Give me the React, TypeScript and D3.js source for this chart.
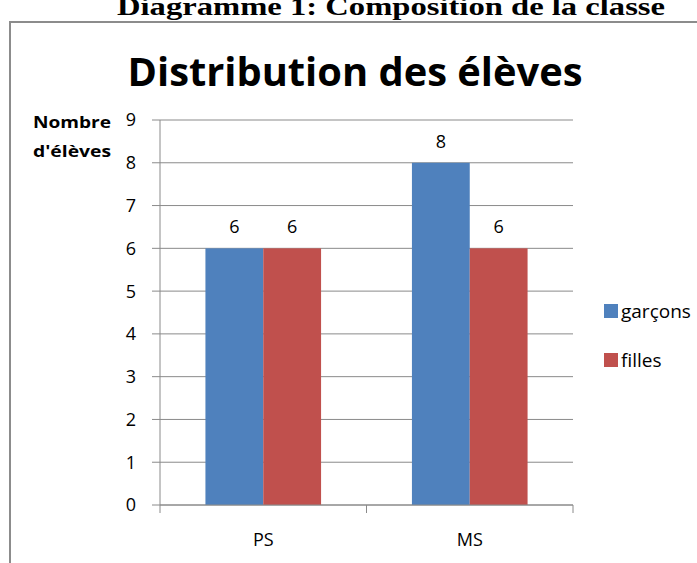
import React from 'react';
import * as d3 from 'd3';

const categories = ['PS', 'MS'];
const seriesNames = ['garçons', 'filles'];
const garcons = [6, 8];
const filles = [6, 6];
const yTicks = [0, 1, 2, 3, 4, 5, 6, 7, 8, 9];
const colors = ['#4F81BD', '#C0504D'];

const font = '"Open Sans", "Noto Sans", sans-serif';

export default function App() {
  const width = 697;
  const height = 563;
  const plot = { left: 160, right: 573, top: 120, bottom: 505 };

  const x = d3.scaleBand<string>()
    .domain(categories)
    .range([plot.left, plot.right])
    .paddingInner(0.44)
    .paddingOuter(0.22);

  const x1 = d3.scaleBand<string>()
    .domain(seriesNames)
    .range([0, x.bandwidth()]);

  const y = d3.scaleLinear()
    .domain([0, 9])
    .range([plot.bottom, plot.top]);

  const values = [garcons, filles];
  const step = (plot.right - plot.left) / categories.length;
  const catTicks = d3.range(categories.length + 1).map(i => plot.left + i * step);

  return (
    <svg width={width} height={height} style={{ position: 'absolute', left: 0, top: 0, background: '#fff' }}>
      {/* caption above the frame, clipped at the top */}
      <text x={391} y={15} textAnchor="middle" fontFamily='"Liberation Serif", serif' fontWeight="bold"
        fontSize={26} textLength={548} lengthAdjust="spacingAndGlyphs">
        Diagramme 1: Composition de la classe
      </text>

      {/* chart frame */}
      <rect x={10} y={22} width={720} height={600} fill="#fff" stroke="#8c8c8c" strokeWidth={2} />

      <text x={355} y={86} textAnchor="middle" fontFamily={font} fontWeight="bold" fontSize={39}
        textLength={455} lengthAdjust="spacingAndGlyphs">
        Distribution des élèves
      </text>

      {/* axis title */}
      <text x={33} y={128} fontFamily={font} fontWeight="bold" fontSize={16}
        textLength={78} lengthAdjust="spacingAndGlyphs">Nombre</text>
      <text x={33} y={157} fontFamily={font} fontWeight="bold" fontSize={16}
        textLength={78} lengthAdjust="spacingAndGlyphs">d'élèves</text>

      {/* gridlines + y ticks */}
      {yTicks.map(t => (
        <g key={t}>
          <line x1={plot.left - 8} x2={plot.right} y1={y(t)} y2={y(t)} stroke="#8a8a8a" strokeWidth={1} />
          <text x={136} y={y(t)} dy="0.36em" textAnchor="end" fontFamily={font} fontSize={18} fill="#000">{t}</text>
        </g>
      ))}

      {/* bars */}
      {categories.map((c, i) => (
        <g key={c} transform={`translate(${x(c)},0)`}>
          {seriesNames.map((s, j) => {
            const v = values[j][i];
            return (
              <g key={s}>
                <rect x={x1(s)} y={y(v)} width={x1.bandwidth()} height={y(0) - y(v)} fill={colors[j]} />
                <text x={(x1(s) ?? 0) + x1.bandwidth() / 2} y={y(v) - 15} textAnchor="middle"
                  fontFamily={font} fontSize={18}>{v}</text>
              </g>
            );
          })}
        </g>
      ))}

      {/* axes */}
      <line x1={plot.left} x2={plot.left} y1={plot.top} y2={plot.bottom} stroke="#8a8a8a" />
      <line x1={plot.left} x2={plot.right} y1={plot.bottom} y2={plot.bottom} stroke="#8a8a8a" />
      {catTicks.map(t => (
        <line key={t} x1={t} x2={t} y1={plot.bottom} y2={plot.bottom + 8} stroke="#8a8a8a" />
      ))}
      {categories.map(c => (
        <text key={c} x={(x(c) ?? 0) + x.bandwidth() / 2} y={546} textAnchor="middle"
          fontFamily={font} fontSize={18}>{c}</text>
      ))}

      {/* legend */}
      {seriesNames.map((s, j) => (
        <g key={s} transform={`translate(604,${311 + j * 49})`}>
          <rect x={0} y={-7} width={14} height={14} fill={colors[j]} />
          <text x={17} y={0} dy="0.36em" fontFamily={font} fontSize={19}>{s}</text>
        </g>
      ))}
    </svg>
  );
}
